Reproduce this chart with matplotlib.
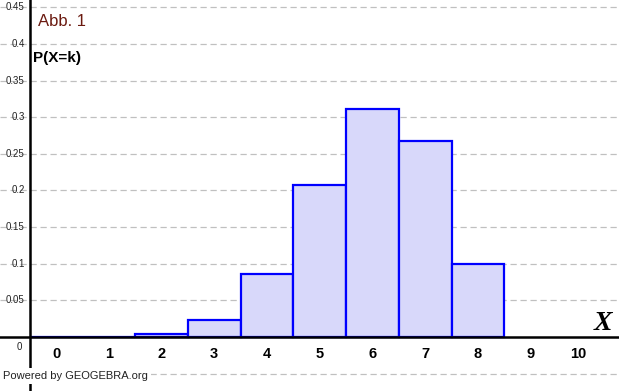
import matplotlib.pyplot as plt

# binomial-looking distribution
k_values = [0, 1, 2, 3, 4, 5, 6, 7, 8]
probs = [0.00002, 0.0004, 0.0038, 0.0231, 0.0865, 0.2076, 0.3115, 0.2670, 0.1001]
x_ticks = [0, 1, 2, 3, 4, 5, 6, 7, 8, 9, 10]
y_ticks = [0.05, 0.1, 0.15, 0.2, 0.25, 0.3, 0.35, 0.4, 0.45]
y_tick_labels = ["0.05", "0.1", "0.15", "0.2", "0.25", "0.3", "0.35", "0.4", "0.45"]

fig = plt.figure(figsize=(6.19, 3.91), dpi=100)
ax = fig.add_axes([0, 0, 1, 1])
ax.set_xlim(-1.062, 10.673)
ax.set_ylim(-0.0738, 0.46)
ax.axis("off")

y_axis_x = -0.49

# dashed grid
for y in [-0.05] + y_ticks:
    ax.axhline(y, color="#c0c0c0", lw=0.9, ls=(0, (5, 3)), zorder=0)

# histogram bars
ax.bar(k_values, probs, width=1.0, color="#d8d8fa", edgecolor="#0000ff",
       linewidth=1.6, zorder=2)

# axes lines
ax.axhline(0, color="black", lw=1.8, zorder=3)
ax.axvline(y_axis_x, color="black", lw=1.8, zorder=3)

# y tick labels
for y, lab in zip(y_ticks, y_tick_labels):
    ax.annotate(lab, (y_axis_x, y), xytext=(-4, 0), textcoords="offset points",
                ha="right", va="center", fontsize=7, color="#222222",
                family="Liberation Sans", zorder=4)
ax.annotate("0", (y_axis_x, 0), xytext=(-8, -7), textcoords="offset points",
            ha="center", va="center", fontsize=7, color="#222222",
            family="Liberation Sans")

# x tick labels (two-digit labels sit a little left, as in GeoGebra)
for x in x_ticks:
    dx = -4 if x >= 10 else 0
    ax.annotate(str(x), (x, 0), xytext=(dx, -12), textcoords="offset points",
                ha="center", va="center", fontsize=10.5, fontweight="bold",
                family="Liberation Sans")

# texts
ax.text(38 / 619, 1 - 22 / 391, "Abb. 1", transform=fig.transFigure,
        fontsize=12, color="#6b1a10", family="Liberation Sans", va="center")
ax.text(33 / 619, 1 - 58 / 391, "P(X=k)", transform=fig.transFigure,
        fontsize=11, fontweight="bold", family="Liberation Sans", va="center")
ax.text(603 / 619, 1 - 323 / 391, "X", transform=fig.transFigure,
        fontsize=20, fontweight="bold", fontstyle="italic",
        family="Liberation Serif", ha="center", va="center")
ax.text(3 / 619, 1 - 376 / 391, "Powered by GEOGEBRA.org", transform=fig.transFigure,
        fontsize=8, color="#222222", family="Liberation Sans", va="center",
        bbox=dict(facecolor="white", edgecolor="none", pad=2), zorder=5)

plt.savefig("out.png", dpi=100)
